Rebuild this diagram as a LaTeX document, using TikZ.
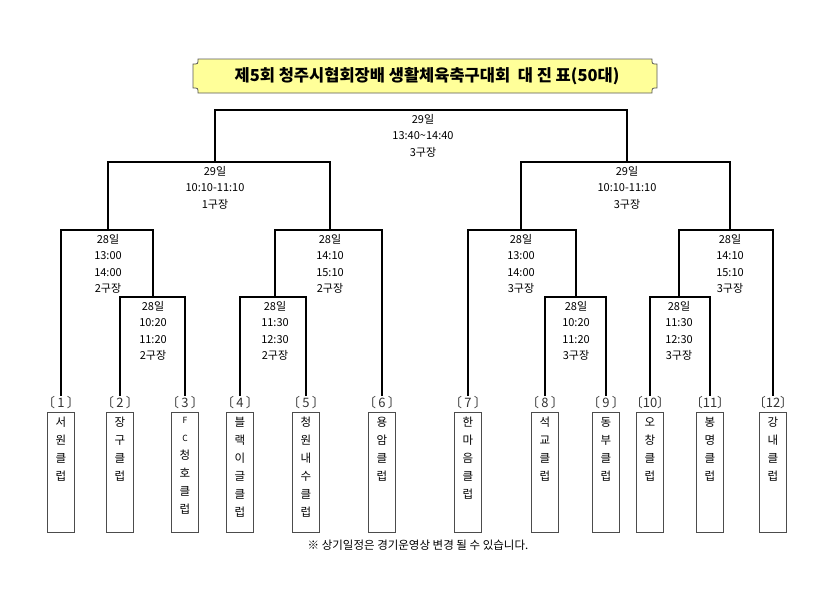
\documentclass[tikz,border=0pt]{standalone}
\usepackage{fontspec}
\setmainfont{Noto Sans CJK KR}
\usetikzlibrary{positioning}
\definecolor{titlefill}{RGB}{255,255,153}

\begin{document}
\begin{tikzpicture}[x=1pt,y=-1pt,
    bline/.style={line width=1.8pt},
    teambox/.style={draw=black!70,line width=0.9pt,minimum width=27pt,minimum height=120pt,anchor=north,inner sep=0pt},
    teamname/.style={align=center,inner sep=0pt,font=\fontsize{11.5}{18}\selectfont},
    numlbl/.style={inner sep=0pt,font=\fontsize{13}{14}\selectfont,text=black!80},
    timelbl/.style={anchor=north,align=center,inner sep=0pt,yshift=-4pt,font=\fontsize{11}{16.5}\selectfont}]
    \useasboundingbox (0,0) rectangle (835,589);

    % title plate
    \draw[draw=black!65,line width=0.8pt,fill=titlefill] (198,59) -- (652,59) .. controls (652,64) .. (657,64)
        -- (657,88) .. controls (652,88) .. (652,93) -- (198,93) .. controls (198,88) .. (193,88)
        -- (193,64) .. controls (198,64) .. (198,59) -- cycle;
    \node[font=\fontsize{16.5}{18}\bfseries\selectfont] (title) at (427,76) {제5회 청주시협회장배 생활체육축구대회 \ 대 진 표(50대)};

    % teams
    \node[teambox] (t1) at (61,412) {};
    \node[teambox] (t2) at (120,412) {};
    \node[teambox] (t3) at (185,412) {};
    \node[teambox] (t4) at (240,412) {};
    \node[teambox] (t5) at (306,412) {};
    \node[teambox] (t6) at (382,412) {};
    \node[teambox] (t7) at (468,412) {};
    \node[teambox] (t8) at (545,412) {};
    \node[teambox] (t9) at (606,412) {};
    \node[teambox] (t10) at (650,412) {};
    \node[teambox] (t11) at (710,412) {};
    \node[teambox] (t12) at (773,412) {};

    \node[teamname,below=5pt of t1.north] (w1) {서\\원\\클\\럽};
    \node[teamname,below=5pt of t2.north] (w2) {장\\구\\클\\럽};
    \node[teamname,below=5pt of t3.north] (w3) {{\fontsize{8.5}{8}\selectfont F}\\{\fontsize{8.5}{8}\selectfont C}\\청\\호\\클\\럽};
    \node[teamname,below=5pt of t4.north] (w4) {블\\랙\\이\\글\\클\\럽};
    \node[teamname,below=5pt of t5.north] (w5) {청\\원\\내\\수\\클\\럽};
    \node[teamname,below=5pt of t6.north] (w6) {용\\암\\클\\럽};
    \node[teamname,below=5pt of t7.north] (w7) {한\\마\\음\\클\\럽};
    \node[teamname,below=5pt of t8.north] (w8) {석\\교\\클\\럽};
    \node[teamname,below=5pt of t9.north] (w9) {동\\부\\클\\럽};
    \node[teamname,below=5pt of t10.north] (w10) {오\\창\\클\\럽};
    \node[teamname,below=5pt of t11.north] (w11) {봉\\명\\클\\럽};
    \node[teamname,below=5pt of t12.north] (w12) {강\\내\\클\\럽};

    \node[numlbl,above=3pt of t1] (n1) {〔\,1\,〕};
    \node[numlbl,above=3pt of t2] (n2) {〔\,2\,〕};
    \node[numlbl,above=3pt of t3] (n3) {〔\,3\,〕};
    \node[numlbl,above=3pt of t4] (n4) {〔\,4\,〕};
    \node[numlbl,above=3pt of t5] (n5) {〔\,5\,〕};
    \node[numlbl,above=3pt of t6] (n6) {〔\,6\,〕};
    \node[numlbl,above=3pt of t7] (n7) {〔\,7\,〕};
    \node[numlbl,above=3pt of t8] (n8) {〔\,8\,〕};
    \node[numlbl,above=3pt of t9] (n9) {〔\,9\,〕};
    \node[numlbl,above=3pt of t10] (n10) {〔10〕};
    \node[numlbl,above=3pt of t11] (n11) {〔11〕};
    \node[numlbl,above=3pt of t12] (n12) {〔12〕};

    % first round
    \coordinate (m1) at (153,297);
    \coordinate (m2) at (275,297);
    \coordinate (m3) at (576,297);
    \coordinate (m4) at (679,297);
    \draw[bline] (n2.north) |- (m1) -| (n3.north);
    \draw[bline] (n4.north) |- (m2) -| (n5.north);
    \draw[bline] (n8.north) |- (m3) -| (n9.north);
    \draw[bline] (n10.north) |- (m4) -| (n11.north);
    \node[timelbl] (lm1) at (m1) {28일\\10:20\\11:20\\2구장};
    \node[timelbl] (lm2) at (m2) {28일\\11:30\\12:30\\2구장};
    \node[timelbl] (lm3) at (m3) {28일\\10:20\\11:20\\3구장};
    \node[timelbl] (lm4) at (m4) {28일\\11:30\\12:30\\3구장};

    % quarter finals
    \coordinate (q1) at (108,230);
    \coordinate (q2) at (330,230);
    \coordinate (q3) at (521,230);
    \coordinate (q4) at (730,230);
    \draw[bline] (n1.north) |- (q1) -| (m1);
    \draw[bline] (m2) |- (q2) -| (n6.north);
    \draw[bline] (n7.north) |- (q3) -| (m3);
    \draw[bline] (m4) |- (q4) -| (n12.north);
    \node[timelbl] (lq1) at (q1) {28일\\13:00\\14:00\\2구장};
    \node[timelbl] (lq2) at (q2) {28일\\14:10\\15:10\\2구장};
    \node[timelbl] (lq3) at (q3) {28일\\13:00\\14:00\\3구장};
    \node[timelbl] (lq4) at (q4) {28일\\14:10\\15:10\\3구장};

    % semi finals and final
    \coordinate (s1) at (215,162);
    \coordinate (s2) at (627,162);
    \coordinate (f) at (423,110);
    \draw[bline] (q1) |- (s1) -| (q2);
    \draw[bline] (q3) |- (s2) -| (q4);
    \draw[bline] (s1) |- (f) -| (s2);
    \node[timelbl] (ls1) at (s1) {29일\\10:10-11:10\\1구장};
    \node[timelbl] (ls2) at (s2) {29일\\10:10-11:10\\3구장};
    \node[timelbl] (lf) at (f) {29일\\13:40\textasciitilde14:40\\3구장};

    \node[font=\fontsize{11.5}{13}\selectfont] (note) at (418,545) {※ 상기일정은 경기운영상 변경 될 수 있습니다.};
\end{tikzpicture}
\end{document}
